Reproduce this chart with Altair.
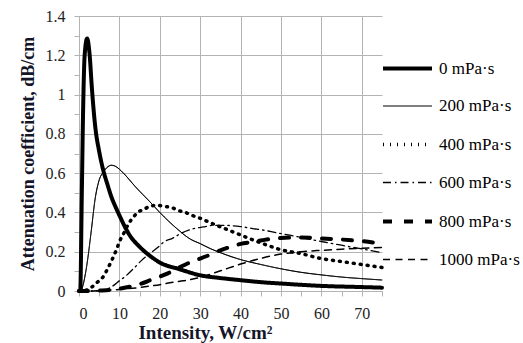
import altair as alt
import pandas as pd

series = ["0 mPa·s", "200 mPa·s", "400 mPa·s", "600 mPa·s", "800 mPa·s", "1000 mPa·s"]

x0 = [0, 0.3, 0.7, 1.0, 1.4, 2.0, 2.6, 3.2, 4, 5, 6, 7, 8, 9, 10, 12.5, 15, 17.5, 20, 25, 30, 35, 40, 45, 50, 60, 70, 75]
y0 = [0, 0, 0.5, 0.9, 1.2, 1.285, 1.21, 1.03, 0.84, 0.71, 0.615, 0.545, 0.48, 0.43, 0.385, 0.285, 0.225, 0.18, 0.145, 0.11, 0.08, 0.066, 0.055, 0.045, 0.038, 0.026, 0.02, 0.017]

x200 = [0, 0.5, 1, 2, 3, 4, 5, 6, 7, 8, 9, 10, 11, 14, 17.6, 20, 24.2, 27.5, 30, 32.5, 35, 40, 45, 50, 55, 60, 65, 70, 75]
y200 = [0, 0, 0.03, 0.14, 0.3, 0.47, 0.565, 0.605, 0.63, 0.64, 0.635, 0.62, 0.6, 0.53, 0.453, 0.40, 0.318, 0.265, 0.241, 0.216, 0.195, 0.16, 0.135, 0.113, 0.095, 0.082, 0.071, 0.063, 0.056]

x400 = [0, 2, 3.4, 4.6, 5.9, 7.1, 8.2, 9.2, 10.2, 11, 12.2, 13.5, 14.5, 15.9, 17.6, 19.3, 21, 23, 24.6, 26.3, 28, 30, 33, 37, 40, 45, 50, 55, 60, 65, 70, 75]
y400 = [0, 0.005, 0.024, 0.046, 0.07, 0.114, 0.16, 0.207, 0.26, 0.29, 0.34, 0.377, 0.40, 0.414, 0.431, 0.436, 0.431, 0.424, 0.41, 0.40, 0.385, 0.37, 0.343, 0.31, 0.285, 0.245, 0.21, 0.19, 0.165, 0.15, 0.135, 0.12]

x600 = [0, 4, 6, 7.5, 9, 10, 11.5, 13.5, 15.5, 17.5, 19.7, 21, 23, 25.4, 27.9, 30.8, 33, 36, 40, 43, 45.6, 49, 52.2, 56, 60, 65, 70, 75]
y600 = [0, 0, 0.005, 0.015, 0.035, 0.052, 0.075, 0.114, 0.156, 0.19, 0.225, 0.25, 0.267, 0.295, 0.315, 0.326, 0.334, 0.334, 0.328, 0.318, 0.31, 0.296, 0.284, 0.268, 0.252, 0.233, 0.214, 0.195]

x800 = [0, 3, 5, 8, 10, 12.6, 15, 18, 20, 22, 25, 28, 30, 32.5, 35, 38, 40, 43, 45, 48, 50, 55, 60, 65, 70, 75]
y800 = [0, 0, 0.002, 0.006, 0.012, 0.022, 0.035, 0.058, 0.073, 0.09, 0.122, 0.15, 0.165, 0.185, 0.207, 0.228, 0.24, 0.25, 0.257, 0.267, 0.27, 0.273, 0.268, 0.262, 0.254, 0.241]

x1000 = [0, 3, 5, 10, 15, 17.5, 20, 22.5, 25, 27, 30, 35, 40, 45, 50, 55, 60, 65, 70, 75]
y1000 = [0, 0, 0.002, 0.008, 0.018, 0.025, 0.032, 0.042, 0.05, 0.056, 0.07, 0.103, 0.137, 0.166, 0.188, 0.2, 0.207, 0.213, 0.218, 0.222]

xs = [x0, x200, x400, x600, x800, x1000]
ys = [y0, y200, y400, y600, y800, y1000]

rows = []
for name, xv, yv in zip(series, xs, ys):
    for a, b in zip(xv, yv):
        rows.append({"I": a, "A": b, "s": name})
df = pd.DataFrame(rows)

serif = "Liberation Serif"
gridc = "#b3b3b3"

x_vals = list(range(0, 80, 5))
y_vals = [round(i * 0.1, 1) for i in range(15)]

leg = alt.Legend(title=None, labelFont=serif, labelFontSize=17)

chart = alt.Chart(df).mark_line(interpolate="monotone", color="black", strokeCap="round").encode(
    x=alt.X("I:Q", scale=alt.Scale(domain=[0, 75], nice=False, zero=True),
            axis=alt.Axis(values=x_vals, title="Intensity, W/cm²", labelFont=serif,
                          labelExpr="datum.value % 10 == 0 ? datum.value : ''",
                          gridOpacity={"condition": {"test": "datum.value % 10 == 0", "value": 1}, "value": 0},
                          titleX=126, titleY=47, titleAlign="center", titleBaseline="alphabetic")),
    y=alt.Y("A:Q", scale=alt.Scale(domain=[0, 1.4], nice=False),
            axis=alt.Axis(values=y_vals, title="Attenuation coefficient, dB/cm", labelFont=serif,
                          labelExpr="round(datum.value*10) % 2 == 0 ? format(datum.value, '~g') : ''",
                          gridOpacity={"condition": {"test": "round(datum.value*10) % 2 == 0", "value": 1}, "value": 0},
                          titleX=-46, titleY=137.5, titleBaseline="alphabetic", titleAngle=-90)),
    strokeDash=alt.StrokeDash("s:N", sort=series,
                              scale=alt.Scale(type="ordinal", domain=series,
                                              range=[[1, 0], [1, 0], [1, 6], [8, 4, 1.5, 4], [9, 12], [7, 5.5]]),
                              legend=leg),
    strokeWidth=alt.StrokeWidth("s:N", sort=series,
                                scale=alt.Scale(type="ordinal", domain=series, range=[4, 1, 3.5, 1.3, 4, 1.5]),
                                legend=leg),
).properties(
    width=303, height=275,
    padding={"left": 79, "top": 16, "right": 141, "bottom": 52},
    autosize=alt.AutoSizeParams(type="none"),
).configure(
    font=serif
).configure_view(
    stroke=None
).configure_axis(
    labelFont=serif, labelFontSize=16, labelColor="#222",
    titleFont=serif, titleFontSize=19, titleFontWeight="bold", titleColor="#15152a",
    gridColor=gridc, gridWidth=1, domainColor=gridc, tickColor=gridc, tickSize=5,
    labelPadding=9,
).configure_axisY(
    titleFontSize=18,
).configure_legend(
    orient="none", legendX=302, legendY=26, padding=0,
    symbolType="stroke", symbolSize=2400, symbolStrokeColor="black",
    labelFont=serif, labelFontSize=17, labelColor="black", labelOffset=5,
    rowPadding=4,
)

chart.save("out.html", embed_options={"renderer": "svg", "actions": False})
